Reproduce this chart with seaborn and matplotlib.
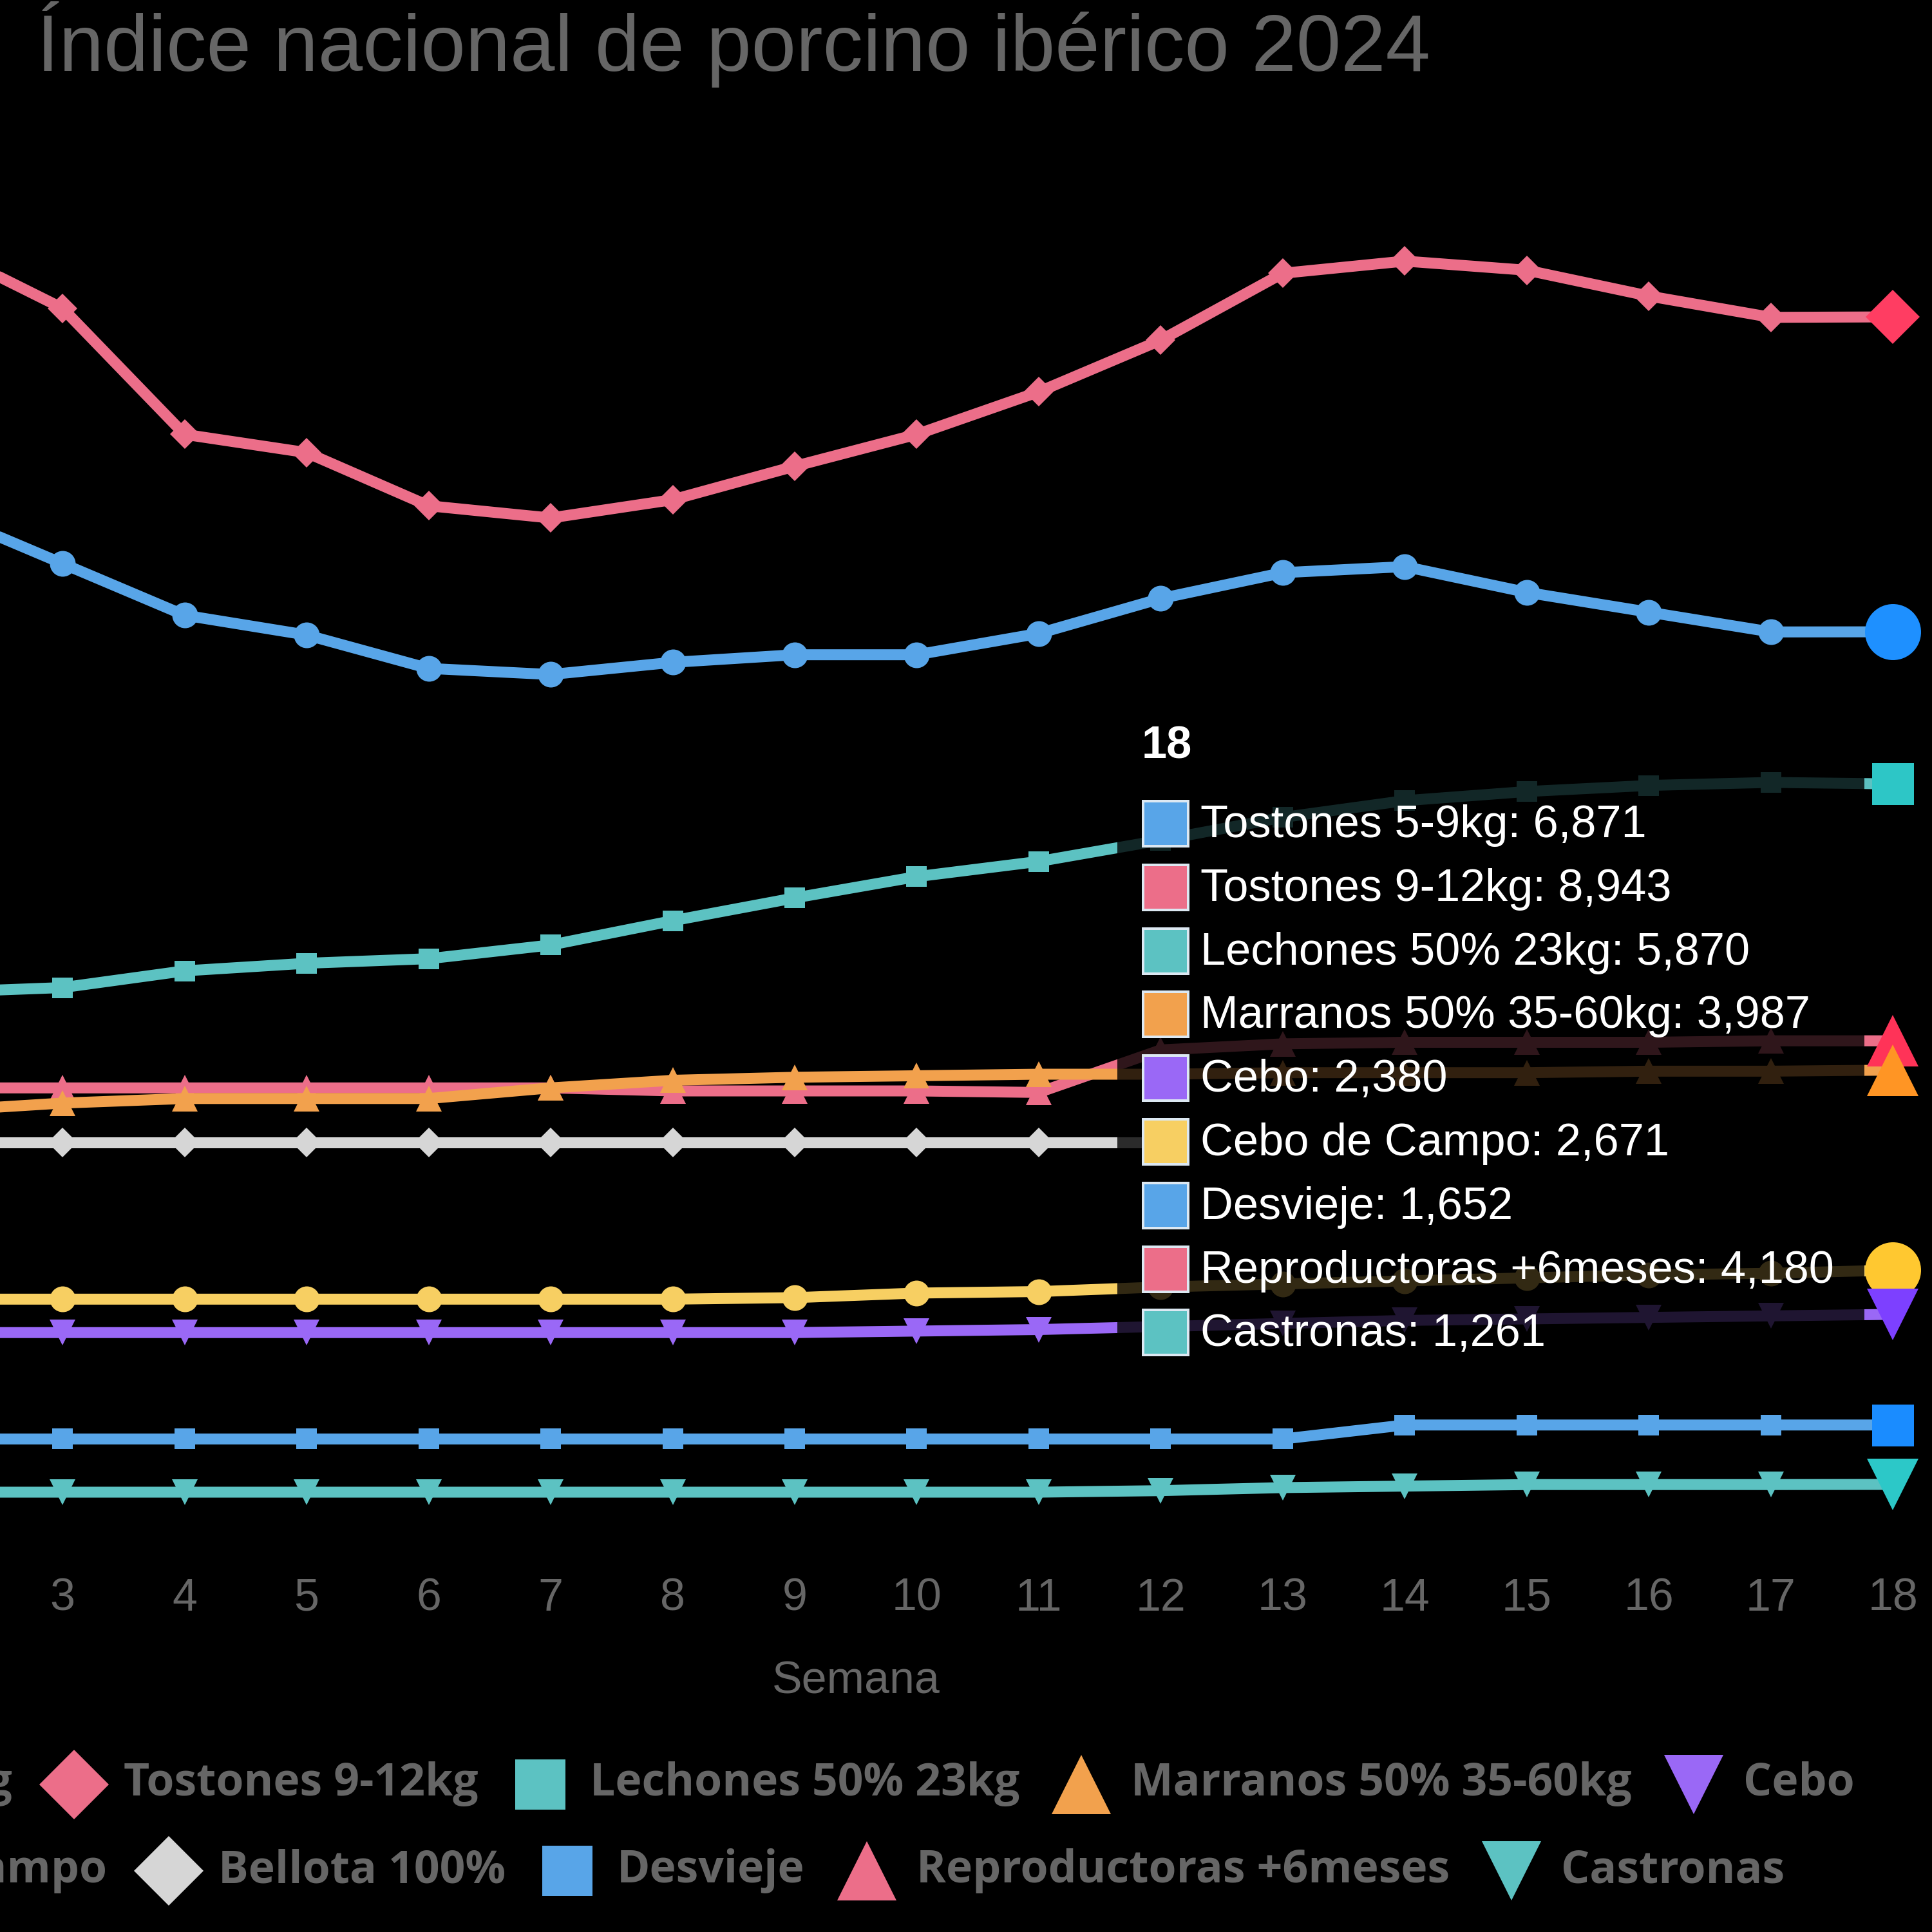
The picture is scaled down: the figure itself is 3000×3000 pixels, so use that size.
import matplotlib
matplotlib.use("Agg")
import matplotlib.pyplot as plt
from matplotlib.patches import Rectangle
import numpy as np
import pandas as pd
import seaborn as sns

# ---------------- data ----------------
semanas = [2, 3, 4, 5, 6, 7, 8, 9, 10, 11, 12, 13, 14, 15, 16, 17, 18]

tostones_5_9 = [7.66, 7.32, 6.98, 6.85, 6.63, 6.59, 6.67, 6.72, 6.72, 6.86, 7.09, 7.26, 7.30, 7.13, 7.00, 6.87, 6.871]
tostones_9_12 = [9.40, 9.00, 8.17, 8.05, 7.70, 7.62, 7.74, 7.96, 8.17, 8.45, 8.79, 9.23, 9.31, 9.25, 9.08, 8.94, 8.943]
lechones = [4.50, 4.53, 4.64, 4.69, 4.72, 4.81, 4.97, 5.12, 5.26, 5.36, 5.50, 5.65, 5.76, 5.82, 5.86, 5.88, 5.870]
marranos = [3.72, 3.77, 3.80, 3.80, 3.80, 3.87, 3.92, 3.94, 3.95, 3.96, 3.96, 3.97, 3.97, 3.97, 3.98, 3.98, 3.987]
cebo = [2.26, 2.26, 2.26, 2.26, 2.26, 2.26, 2.26, 2.26, 2.27, 2.28, 2.30, 2.32, 2.34, 2.35, 2.36, 2.37, 2.380]
cebo_campo = [2.48, 2.48, 2.48, 2.48, 2.48, 2.48, 2.48, 2.49, 2.52, 2.53, 2.56, 2.58, 2.60, 2.62, 2.64, 2.65, 2.671]
bellota = [3.51, 3.51, 3.51, 3.51, 3.51, 3.51, 3.51, 3.51, 3.51, 3.51, 3.51, None, None, None, None, None, None]
desvieje = [1.56, 1.56, 1.56, 1.56, 1.56, 1.56, 1.56, 1.56, 1.56, 1.56, 1.56, 1.56, 1.652, 1.652, 1.652, 1.652, 1.652]
reproductoras = [3.87, 3.87, 3.87, 3.87, 3.87, 3.87, 3.85, 3.85, 3.85, 3.84, 4.12, 4.16, 4.17, 4.17, 4.17, 4.18, 4.180]
castronas = [1.21, 1.21, 1.21, 1.21, 1.21, 1.21, 1.21, 1.21, 1.21, 1.21, 1.22, 1.24, 1.25, 1.26, 1.26, 1.26, 1.261]

nombres = ["Tostones 5-9kg", "Tostones 9-12kg", "Lechones 50% 23kg", "Marranos 50% 35-60kg",
           "Cebo", "Cebo de Campo", "Bellota 100%", "Desvieje", "Reproductoras +6meses", "Castronas"]
valores = [tostones_5_9, tostones_9_12, lechones, marranos, cebo, cebo_campo,
           bellota, desvieje, reproductoras, castronas]

titulo = "Índice nacional de porcino ibérico 2024"
etiqueta_x = "Semana"

# ---------------- styles ----------------
colores = ["#58A5E8", "#EC6E89", "#5CC2C2", "#F2A14D", "#9A68F6",
           "#F7CF62", "#D6D6D6", "#58A5E8", "#EC6E89", "#5CC2C2"]
colores_hover = ["#1E90FF", "#FF3D62", "#2DC6C6", "#FF9524", "#7D40FF",
                 "#FFC830", "#E0E0E0", "#1A8CFF", "#FF3358", "#2CC8C8"]
marcadores = ["o", "D", "s", "^", "v", "o", "D", "s", "^", "v"]

sns.set_theme(style="dark", rc={"figure.facecolor": "black", "axes.facecolor": "black",
                                "savefig.facecolor": "black"})
plt.rcParams["font.family"] = ["Liberation Sans", "DejaVu Sans"]

W = H = 3000
DPI = 300


def pt(px):
    return px * 72.0 / DPI


rows = []
for n, vals in zip(nombres, valores):
    for s, v in zip(semanas, vals):
        rows.append({"Semana": s, "Indice": np.nan if v is None else v, "Serie": n})
df = pd.DataFrame(rows)

fig = plt.figure(figsize=(W / DPI, H / DPI), dpi=DPI, facecolor="black")
y_bot_px, y_top_px = 2366.6, 242.6
ax = fig.add_axes([0, 1 - y_bot_px / H, 1, (y_bot_px - y_top_px) / H])
ax.set_facecolor("black")

sns.lineplot(data=df, x="Semana", y="Indice", hue="Serie", style="Serie",
             hue_order=nombres[::-1], style_order=nombres[::-1],
             palette=dict(zip(nombres, colores)), markers=dict(zip(nombres, marcadores)),
             dashes=False, linewidth=pt(17), estimator=None, sort=False,
             legend=False, ax=ax)

size_line = {"o": pt(40), "D": pt(32), "s": pt(32), "^": pt(40), "v": pt(40)}
for ln in ax.lines:
    m = ln.get_marker()
    if m in size_line:
        ln.set_markersize(size_line[m])
        ln.set_markeredgewidth(0)
    ln.set_solid_joinstyle("round")
    ln.set_solid_capstyle("round")

# hovered (last week) points
size_hover = {"o": pt(87), "D": pt(60), "s": pt(65), "^": pt(80), "v": pt(80)}
for n, vals, m, hc in zip(nombres[::-1], valores[::-1], marcadores[::-1], colores_hover[::-1]):
    v = vals[-1]
    if v is None:
        continue
    ax.plot([semanas[-1]], [v], marker=m, ms=size_hover[m], color=hc, mec=hc, mew=0,
            linestyle="none", clip_on=False, zorder=10)

for sp in ax.spines.values():
    sp.set_visible(False)
ax.grid(False)
ax.set_yticks([])
ax.set_ylabel("")
ax.set_xticks(semanas)
ax.set_xticklabels([str(s) for s in semanas])
ax.set_xlim(2.4881, 18.3193)
ax.set_ylim(1.0, 10.0)
ax.tick_params(axis="x", colors="#666666", labelsize=pt(70), length=0, pad=pt(83))
ax.set_xlabel(etiqueta_x, color="#666666", fontsize=pt(70), va="center")
ax.xaxis.set_label_coords(1329 / W, ((1 - 2612 / H) - (1 - y_bot_px / H)) / ((y_bot_px - y_top_px) / H))

# overlay in pixel coordinates
ov = fig.add_axes([0, 0, 1, 1], zorder=5)
ov.set_xlim(0, W)
ov.set_ylim(H, 0)
ov.axis("off")
ov.patch.set_alpha(0)
renderer = fig.canvas.get_renderer()


def text_width(s, **kw):
    t = ov.text(0, 0, s, **kw)
    w = t.get_window_extent(renderer).width
    t.remove()
    return w


# title
fs_title = 29 * 2168 / text_width(titulo, fontsize=29)
ov.text(57, 110, titulo, fontsize=fs_title, color="#666666", ha="left", va="baseline")

# tooltip
ov.add_patch(Rectangle((1735, 1095), 2895 - 1735, 2125 - 1095, facecolor=(0, 0, 0, 0.8),
                       edgecolor="none", zorder=1))
items = []
for n, vals, c in zip(nombres, valores, colores):
    if vals[-1] is not None:
        items.append((n, vals[-1], c))
first = f"{items[0][0]}: {items[0][1]:.3f}".replace(".", ",")
fs_tt = 17 * 694 / text_width(first, fontsize=17)
ov.text(1773, 1178, str(semanas[-1]), fontsize=fs_tt, fontweight="bold", color="white",
        ha="left", va="baseline", zorder=3)
for i, (n, v, c) in enumerate(items):
    yc = 1279 + i * 98.8
    ov.add_patch(Rectangle((1775, yc - 35), 70, 70, facecolor=c, edgecolor="#DCE8F2",
                           linewidth=pt(4), zorder=2))
    ov.text(1864, yc + 21, f"{n}: {v:.3f}".replace(".", ","), fontsize=fs_tt, color="white",
            ha="left", va="baseline", zorder=3)

# legend (two centered rows, cropped)
leg_font = dict(family=["Open Sans", "DejaVu Sans"], fontweight="bold")
fs_leg = 16 * 550 / text_width("Tostones 9-12kg", fontsize=16, **leg_font)
size_leg = {"o": pt(90), "D": pt(76), "s": pt(78), "^": pt(92), "v": pt(92)}
GAP_M2T, GAP_T2M = 77, 96


def legend_row(idx, anchor_i, anchor_x, y_marker, y_base):
    ws = [text_width(nombres[k], fontsize=fs_leg, **leg_font) for k in idx]
    mx = [0.0] * len(idx)
    mx[anchor_i] = anchor_x
    for j in range(anchor_i + 1, len(idx)):
        mx[j] = mx[j - 1] + GAP_M2T + ws[j - 1] + GAP_T2M
    for j in range(anchor_i - 1, -1, -1):
        mx[j] = mx[j + 1] - GAP_T2M - ws[j] - GAP_M2T
    for j, k in enumerate(idx):
        m = marcadores[k]
        ov.plot([mx[j]], [y_marker], marker=m, ms=size_leg[m], color=colores[k], mew=0,
                linestyle="none", clip_on=False)
        ov.text(mx[j] + GAP_M2T, y_base, nombres[k], fontsize=fs_leg, color="#666666",
                ha="left", va="baseline", **leg_font)


legend_row([0, 1, 2, 3, 4], 1, 115, 2771, 2788)
legend_row([5, 6, 7, 8, 9], 1, 262, 2905, 2923)

fig.savefig("out.png", dpi=DPI, facecolor="black")
